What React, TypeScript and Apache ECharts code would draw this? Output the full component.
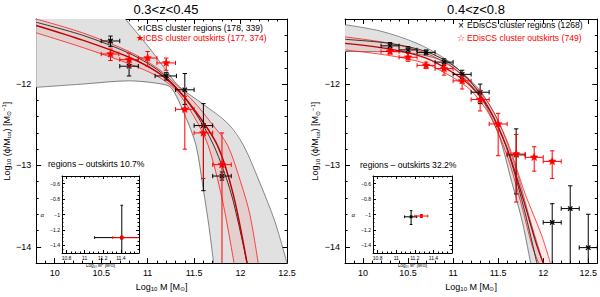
import React, { useEffect, useRef } from 'react';
import * as echarts from 'echarts';

// ---------- texts ----------
const panelTitles = ['0.3<z<0.45', '0.4<z<0.8'];
const legendLeft = ['ICBS cluster regions (178, 339)', 'ICBS cluster outskirts (177, 374)'];
const legendRight = ['EDisCS cluster regions (1268)', 'EDisCS cluster outskirts (749)'];
const diffTexts = ['regions – outskirts 10.7%', 'regions – outskirts 32.2%'];

// ---------- tick labels ----------
const xTicks = [10, 10.5, 11, 11.5, 12, 12.5];
const yTicks = [-14, -13, -12];
const insetXTicks = [10.8, 11, 11.2, 11.4];
const insetYTicks = [-1.4, -1.2, -1, -0.8, -0.6];

// ---------- data: [x, y, xLo, xHi, yLo, yHi]  (±99 = off plot) ----------
const icbsRegions = [
  [10.6, -11.47, 10.5, 10.7, -11.54, -11.41],
  [10.8, -11.78, 10.7, 10.9, -11.9, -11.72],
  [11.2, -11.9, 11.08, 11.31, -11.95, -11.86],
  [11.4, -12.07, 11.3, 11.5, -12.25, -11.87],
  [11.6, -12.51, 11.5, 11.7, -13.31, -12.24],
  [11.8, -13.13, 11.7, 11.9, -13.18, -13.08],
];
const icbsOutskirts = [
  [10.6, -11.63, 10.5, 10.69, -11.71, -11.57],
  [10.8, -11.7, 10.7, 10.9, -11.79, -11.62],
  [11.0, -11.68, 10.9, 11.1, -11.78, -11.6],
  [11.2, -11.74, 11.1, 11.3, -11.83, -11.68],
  [11.4, -12.31, 11.3, 11.5, -12.8, -12.15],
  [11.6, -12.6, 11.5, 11.7, -13.16, -12.5],
  [11.8, -12.99, 11.7, 11.9, -99, -12.6],
];
const edisRegions = [
  [10.3, -11.53, 10.2, 10.4, -11.57, -11.49],
  [10.5, -11.58, 10.4, 10.6, -11.62, -11.54],
  [10.7, -11.61, 10.6, 10.8, -11.64, -11.58],
  [10.9, -11.73, 10.8, 11.0, -11.77, -11.69],
  [11.1, -11.88, 11.0, 11.2, -11.93, -11.83],
  [11.3, -12.1, 11.2, 11.4, -12.24, -12.0],
  [11.7, -12.87, 11.6, 11.8, -13.35, -12.55],
  [12.1, -13.7, 12.0, 12.2, -99, -13.47],
  [12.3, -13.53, 12.2, 12.4, -99, -13.25],
  [12.5, -14.01, 12.4, 12.6, -99, -13.6],
];
const edisOutskirts = [
  [10.3, -11.6, 10.2, 10.4, -11.63, -11.57],
  [10.5, -11.67, 10.4, 10.6, -11.72, -11.62],
  [10.7, -11.77, 10.6, 10.8, -11.81, -11.73],
  [10.9, -11.81, 10.8, 11.0, -11.89, -11.76],
  [11.1, -11.96, 11.0, 11.2, -12.06, -11.9],
  [11.3, -12.19, 11.2, 11.4, -12.33, -12.08],
  [11.5, -12.49, 11.4, 11.6, -12.88, -12.36],
  [11.7, -12.86, 11.6, 11.8, -13.45, -12.62],
  [11.9, -12.9, 11.8, 12.0, -13.07, -12.77],
  [12.1, -12.95, 12.0, 12.2, -13.16, -12.82],
];
// inset (M*, alpha)
const icbsInsetRegions = [[11.41, -1.3, 11.11, 99, -99, -0.88]];
const icbsInsetOutskirts = [[11.41, -1.3, 11.31, 99, -1.32, -1.28]];
const edisInsetRegions = [[11.16, -1.03, 11.09, 11.22, -1.13, -0.95]];
const edisInsetOutskirts = [[11.27, -1.02, 11.2, 11.34, -1.04, -1.0]];

// ---------- fitted curves ----------
const icbsGrayUpper = [[9.8, -11.2], [10.76, -11.2], [11.0, -11.53], [11.18, -11.8], [11.33, -12.02], [11.6, -12.25], [11.86, -12.48], [12.03, -12.75], [12.21, -13.22], [12.37, -13.69], [12.5, -14.2]];
const icbsGrayLower = [[9.8, -12.04], [10.3, -12.0], [10.8, -11.96], [11.1, -11.99], [11.25, -12.04], [11.4, -12.38], [11.52, -12.75], [11.6, -13.3], [11.66, -13.75], [11.71, -14.2]];
const icbsBlackFit = [[9.8, -11.24], [10.3, -11.4], [10.8, -11.62], [11.1, -11.82], [11.3, -12.03], [11.5, -12.33], [11.71, -12.75], [11.9, -13.35], [12.07, -14.2]];
const icbsRedUpper = [[9.8, -11.2], [10.3, -11.37], [10.8, -11.6], [11.1, -11.8], [11.3, -12.0], [11.5, -12.22], [11.7, -12.5], [11.86, -12.75], [12.0, -13.2], [12.1, -13.6], [12.19, -14.2]];
const icbsRedLower = [[9.8, -11.37], [10.3, -11.55], [10.8, -11.75], [11.1, -11.9], [11.3, -12.07], [11.5, -12.4], [11.65, -12.75], [11.8, -13.4], [11.93, -14.2]];
const icbsRedFit = [[9.8, -11.28], [10.3, -11.46], [10.8, -11.67], [11.1, -11.85], [11.3, -12.04], [11.5, -12.31], [11.75, -12.75], [11.92, -13.35], [12.07, -14.2]];

const edisGrayUpper = [[9.8, -11.27], [10.2, -11.35], [10.6, -11.5], [10.9, -11.68], [11.1, -11.86], [11.3, -12.08], [11.5, -12.45], [11.7, -13.05], [11.85, -13.65], [12.0, -14.2]];
const edisGrayLower = [[9.8, -11.6], [10.3, -11.6], [10.6, -11.63], [10.9, -11.72], [11.1, -11.9], [11.3, -12.15], [11.5, -12.6], [11.65, -13.2], [11.77, -13.7], [11.86, -14.2]];
const edisBlackFit = [[9.8, -11.45], [10.3, -11.5], [10.7, -11.6], [11.0, -11.77], [11.2, -11.98], [11.4, -12.3], [11.6, -12.8], [11.78, -13.5], [11.93, -14.2]];
const edisRedUpper = [[9.8, -11.42], [10.3, -11.5], [10.7, -11.62], [11.0, -11.8], [11.2, -11.98], [11.4, -12.25], [11.6, -12.7], [11.8, -13.35], [11.98, -13.85], [12.08, -14.2]];
const edisRedLower = [[9.8, -11.58], [10.3, -11.65], [10.7, -11.75], [11.0, -11.92], [11.2, -12.08], [11.4, -12.37], [11.6, -12.88], [11.75, -13.45], [11.88, -14.0], [11.95, -14.2]];
const edisRedFit = [[9.8, -11.5], [10.3, -11.57], [10.7, -11.68], [11.0, -11.86], [11.2, -12.03], [11.4, -12.31], [11.6, -12.79], [11.78, -13.42], [11.92, -13.95], [12.0, -14.2]];

// ---------- helpers ----------
const FONT = 'Liberation Sans, Arial, sans-serif';
const RED = '#ff0000';
const steps = (a: number, b: number, s: number) => {
  const out: number[] = [];
  const n = Math.round((b - a) / s);
  for (let i = 0; i <= n; i++) out.push(+(a + i * s).toFixed(4));
  return out;
};
const fmt = (v: number) => String(v).replace('-', '−');

function axesFor(grid: number, b: any) {
  const xs: any[] = [];
  const ys: any[] = [];
  const base = { type: 'value', gridIndex: grid, splitLine: { show: false } };
  (['bottom', 'top'] as const).forEach((pos) => {
    const lab = pos === 'bottom';
    xs.push({
      ...base, position: pos, min: b.xmin, max: b.xmax,
      axisLine: { show: true, onZero: false, lineStyle: { color: '#000', width: 1 } },
      axisTick: { show: true, inside: true, length: b.major, customValues: b.xMajor, lineStyle: { color: '#000', width: 1 } },
      axisLabel: lab ? { show: true, customValues: b.xMajor, formatter: fmt, fontSize: b.font, fontFamily: FONT, color: '#000', margin: b.labelMargin } : { show: false },
      name: lab ? b.xName.text : '', nameLocation: 'middle', nameGap: b.xGap,
      nameTextStyle: b.xName.style,
    });
    xs.push({
      ...base, position: pos, min: b.xmin, max: b.xmax,
      axisLine: { show: false, onZero: false },
      axisTick: { show: true, inside: true, length: b.minor, customValues: b.xMinor, lineStyle: { color: '#000', width: 1 } },
      axisLabel: { show: false },
    });
  });
  (['left', 'right'] as const).forEach((pos) => {
    const lab = pos === 'left';
    ys.push({
      ...base, position: pos, min: b.ymin, max: b.ymax,
      axisLine: { show: true, onZero: false, lineStyle: { color: '#000', width: 1 } },
      axisTick: { show: true, inside: true, length: b.major, customValues: b.yMajor, lineStyle: { color: '#000', width: 1 } },
      axisLabel: lab ? { show: true, customValues: b.yMajor, formatter: fmt, fontSize: b.font, fontFamily: FONT, color: '#000', margin: b.labelMargin } : { show: false },
      name: lab ? b.yName.text : '', nameLocation: 'middle', nameGap: b.yGap, nameRotate: b.yRotate,
      nameTextStyle: b.yName.style,
    });
    ys.push({
      ...base, position: pos, min: b.ymin, max: b.ymax,
      axisLine: { show: false, onZero: false },
      axisTick: { show: true, inside: true, length: b.minor, customValues: b.yMinor, lineStyle: { color: '#000', width: 1 } },
      axisLabel: { show: false },
    });
  });
  return { xs, ys };
}

function starPoints(cx: number, cy: number, R: number, r: number) {
  const pts: number[][] = [];
  for (let i = 0; i < 10; i++) {
    const a = -Math.PI / 2 + (i * Math.PI) / 5;
    const rad = i % 2 === 0 ? R : r;
    pts.push([cx + rad * Math.cos(a), cy + rad * Math.sin(a)]);
  }
  return pts;
}

function errSeries(data: number[][], xi: number, yi: number, color: string, marker: 'x' | 'star', scale: number, z: number) {
  return {
    type: 'custom', xAxisIndex: xi, yAxisIndex: yi, z, silent: true,
    dimensions: ['x', 'y', 'xl', 'xh', 'yl', 'yh'],
    encode: { x: 0, y: 1 },
    data,
    renderItem: (params: any, api: any) => {
      const cs = params.coordSys;
      const x = api.value(0), y = api.value(1);
      const p = api.coord([x, y]);
      const pxl = api.coord([api.value(2), y])[0];
      const pxh = api.coord([api.value(3), y])[0];
      const pyl = api.coord([x, api.value(4)])[1];
      const pyh = api.coord([x, api.value(5)])[1];
      const cx = (v: number) => Math.max(cs.x, Math.min(cs.x + cs.width, v));
      const cy = (v: number) => Math.max(cs.y, Math.min(cs.y + cs.height, v));
      const st = { stroke: color, lineWidth: 1 };
      const L = (x1: number, y1: number, x2: number, y2: number) => ({ type: 'line', shape: { x1, y1, x2, y2 }, style: st });
      const cap = 2.2 * scale;
      const ch: any[] = [];
      const x1 = cx(pxl), x2 = cx(pxh), yb = cy(pyl), yt = cy(pyh);
      ch.push(L(x1, p[1], x2, p[1]));
      if (x1 === pxl) ch.push(L(x1, p[1] - cap, x1, p[1] + cap));
      if (x2 === pxh) ch.push(L(x2, p[1] - cap, x2, p[1] + cap));
      ch.push(L(p[0], yt, p[0], yb));
      if (yt === pyh) ch.push(L(p[0] - cap, yt, p[0] + cap, yt));
      if (yb === pyl) ch.push(L(p[0] - cap, yb, p[0] + cap, yb));
      if (marker === 'x') {
        const s = 2.2 * scale;
        ch.push({ type: 'line', shape: { x1: p[0] - s, y1: p[1] - s, x2: p[0] + s, y2: p[1] + s }, style: { stroke: color, lineWidth: 1.3 } });
        ch.push({ type: 'line', shape: { x1: p[0] - s, y1: p[1] + s, x2: p[0] + s, y2: p[1] - s }, style: { stroke: color, lineWidth: 1.3 } });
      } else {
        ch.push({ type: 'polygon', shape: { points: starPoints(p[0], p[1], 4 * scale, 1.8 * scale) }, style: { fill: color, stroke: color, lineWidth: 0.5 } });
      }
      return { type: 'group', children: ch };
    },
  };
}

function bandSeries(upper: number[][], lower: number[][], xi: number, yi: number, fill: string, z: number) {
  return {
    type: 'custom', xAxisIndex: xi, yAxisIndex: yi, z, silent: true,
    encode: { x: 0, y: 1 },
    data: [[upper[0][0], upper[0][1]]],
    renderItem: (params: any, api: any) => ({
      type: 'polygon',
      shape: { points: [...upper, ...lower.slice().reverse()].map((q) => api.coord(q)) },
      style: { fill, stroke: 'none' },
    }),
  };
}

function lineSeries(pts: number[][], xi: number, yi: number, color: string, width: number, z: number) {
  return {
    type: 'line', xAxisIndex: xi, yAxisIndex: yi, z, silent: true, data: pts,
    showSymbol: false, smooth: 0.3, clip: true,
    lineStyle: { color, width },
  };
}

const richMain = {
  a: { fontSize: 9, fontFamily: FONT, color: '#000' },
  s: { fontSize: 6, fontFamily: FONT, color: '#000', padding: [5, 0, 0, 0] },
  p: { fontSize: 6, fontFamily: FONT, color: '#000', padding: [0, 0, 5, 0] },
};

export default function App() {
  const ref = useRef<HTMLDivElement>(null);
  useEffect(() => {
    if (!ref.current) return;
    const chart = echarts.init(ref.current, undefined, { renderer: 'svg' });

    const xMinorMain = steps(9.8, 12.6, 0.1);
    const yMinorMain = steps(-14.2, -11.2, 0.2);
    const insetXMinor = steps(10.75, 11.6, 0.05);
    const insetYMinor = steps(-1.5, -0.5, 0.05);

    const mainXName = { text: '{a|Log}{s|10}{a| M [M}{s|⊙}{a|]}', style: { rich: richMain } };
    const mainYName = { text: '{a|Log}{s|10}{a| (ϕ/M}{s|tot}{a|) [M}{s|⊙}{p|−1}{a|]}', style: { rich: richMain } };
    const insXName = { text: 'Log₁₀ M* [M⊙]', style: { fontSize: 4.5, fontFamily: FONT, color: '#000', lineHeight: 5 } };
    const insYName = { text: 'α', style: { fontSize: 6, fontFamily: FONT, color: '#000' } };

    const mainBox = (xmax: number) => ({
      xmin: 9.8, xmax, ymin: -14.2, ymax: -11.2,
      xMajor: xTicks, yMajor: yTicks,
      xMinor: xMinorMain.filter((v) => v <= xmax), yMinor: yMinorMain,
      font: 9, major: 5, minor: 2.5, xName: mainXName, yName: mainYName, xGap: 16, yGap: 19, yRotate: 90, labelMargin: 5,
    });
    const insetBox = {
      xmin: 10.75, xmax: 11.6, ymin: -1.5, ymax: -0.5,
      xMajor: insetXTicks, yMajor: insetYTicks, xMinor: insetXMinor, yMinor: insetYMinor,
      font: 5, major: 3, minor: 1.5, xName: insXName, yName: insYName, xGap: 10, yGap: 18, yRotate: 0, labelMargin: 2,
    };

    const a0 = axesFor(0, mainBox(12.5));
    const a1 = axesFor(1, mainBox(12.6));
    const a2 = axesFor(2, insetBox);
    const a3 = axesFor(3, insetBox);
    const xAxis = [...a0.xs, ...a1.xs, ...a2.xs, ...a3.xs];
    const yAxis = [...a0.ys, ...a1.ys, ...a2.ys, ...a3.ys];
    const L0 = 0, R0 = 4, IL = 8, IR = 12;

    const GRAY = '#e1e1e1';
    const PINK = 'rgba(255,90,90,0.13)';
    const series: any[] = [
      bandSeries(icbsGrayUpper, icbsGrayLower, L0, L0, GRAY, 1),
      lineSeries(icbsGrayUpper.slice(1), L0, L0, '#555', 0.7, 2),
      lineSeries(icbsGrayLower, L0, L0, '#555', 0.7, 2),
      bandSeries(icbsRedUpper, icbsRedLower, L0, L0, PINK, 3),
      lineSeries(icbsRedUpper, L0, L0, RED, 0.7, 4),
      lineSeries(icbsRedLower, L0, L0, RED, 0.7, 4),
      lineSeries(icbsBlackFit, L0, L0, '#222', 0.9, 4),
      lineSeries(icbsRedFit, L0, L0, '#c00000', 1.5, 5),
      errSeries(icbsRegions, L0, L0, '#000', 'x', 1, 6),
      errSeries(icbsOutskirts, L0, L0, RED, 'star', 1, 7),
      bandSeries(edisGrayUpper, edisGrayLower, R0, R0, GRAY, 1),
      lineSeries(edisGrayUpper, R0, R0, '#555', 0.7, 2),
      lineSeries(edisGrayLower, R0, R0, '#555', 0.7, 2),
      bandSeries(edisRedUpper, edisRedLower, R0, R0, PINK, 3),
      lineSeries(edisRedUpper, R0, R0, RED, 0.7, 4),
      lineSeries(edisRedLower, R0, R0, RED, 0.7, 4),
      lineSeries(edisBlackFit, R0, R0, '#222', 0.9, 4),
      lineSeries(edisRedFit, R0, R0, '#c00000', 1.3, 5),
      errSeries(edisRegions, R0, R0, '#000', 'x', 1, 6),
      errSeries(edisOutskirts, R0, R0, RED, 'star', 1, 7),
      errSeries(icbsInsetRegions, IL, IL, '#000', 'x', 0.6, 8),
      errSeries(icbsInsetOutskirts, IL, IL, RED, 'x', 0.6, 9),
      errSeries(edisInsetRegions, IR, IR, '#000', 'x', 0.6, 8),
      errSeries(edisInsetOutskirts, IR, IR, RED, 'x', 0.6, 9),
    ];

    const txt = (text: string, x: number, y: number, fill: string, size: number, align = 'left') => ({
      type: 'text', x, y, z: 100,
      style: { text, fill, fontSize: size, fontFamily: FONT, align, verticalAlign: 'middle' },
    });

    chart.setOption({
      animation: false,
      backgroundColor: '#fff',
      grid: [
        { left: 33, top: 19, width: 254, height: 254 },
        { left: 345, top: 19, width: 253, height: 254 },
        { left: 62, top: 176, width: 77, height: 77 },
        { left: 373, top: 176, width: 79, height: 77 },
      ],
      xAxis,
      yAxis,
      series,
      graphic: [
        txt(panelTitles[0], 166, 9, '#000', 13, 'center'),
        txt(panelTitles[1], 476, 9, '#000', 13, 'center'),
        txt('×', 137, 28, '#000', 10),
        txt(legendLeft[0], 143, 28, '#000', 8.6),
        txt('★', 136, 38, RED, 9),
        txt(legendLeft[1], 143, 38, RED, 8.6),
        txt('×', 458, 25, '#000', 10),
        txt(legendRight[0], 467, 25, '#000', 8.6),
        txt('☆', 457, 38, RED, 9),
        txt(legendRight[1], 467, 38, RED, 8.6),
        txt(diffTexts[0], 48, 164, '#000', 8.6),
        txt(diffTexts[1], 360, 165, '#000', 8.6),
      ],
    } as any);
    return () => chart.dispose();
  }, []);
  return <div ref={ref} style={{ position: 'fixed', left: 0, top: 0, width: 600, height: 297 }} />;
}
